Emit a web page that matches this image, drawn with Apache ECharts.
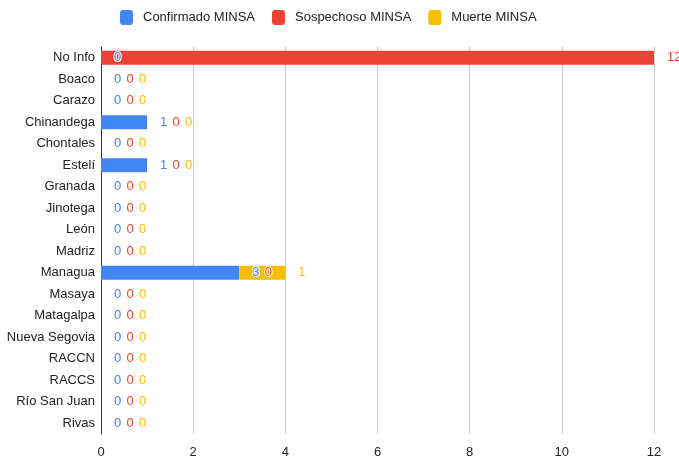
<!DOCTYPE html>
<html>
<head>
<meta charset="utf-8">
<script src="https://cdn.jsdelivr.net/npm/echarts@6/dist/echarts.min.js"></script>
<style>
  html, body { margin: 0; padding: 0; background: #fff; }
  #chart { width: 679px; height: 459px; }
</style>
</head>
<body>
<div id="chart"></div>
<script>
const categories = ["No Info", "Boaco", "Carazo", "Chinandega", "Chontales", "Estelí", "Granada", "Jinotega", "León", "Madriz", "Managua", "Masaya", "Matagalpa", "Nueva Segovia", "RACCN", "RACCS", "Río San Juan", "Rivas"];
const seriesNames = ["Confirmado MINSA", "Sospechoso MINSA", "Muerte MINSA"];
const confirmado = [0, 0, 0, 1, 0, 1, 0, 0, 0, 0, 3, 0, 0, 0, 0, 0, 0, 0];
const sospechoso = [12, 0, 0, 0, 0, 0, 0, 0, 0, 0, 0, 0, 0, 0, 0, 0, 0, 0];
const muerte = [0, 0, 0, 0, 0, 0, 0, 0, 0, 0, 1, 0, 0, 0, 0, 0, 0, 0];
const xTicks = [0, 2, 4, 6, 8, 10, 12];

const colors = ["#4285F4", "#EA4335", "#FBBC04"];
const font = "Arial, 'Liberation Sans', sans-serif";
const values = [confirmado, sospechoso, muerte];

// labels that end at the same stack position get pushed right, one after another
const series = values.map((vals, s) => {
  return {
    name: seriesNames[s],
    type: "bar",
    stack: "total",
    barCategoryGap: "34%",
    data: vals.map((v, i) => {
      let end = 0;
      for (let j = 0; j <= s; j++) end += values[j][i];
      let k = 0;
      for (let p = 0; p < s; p++) {
        let e = 0;
        for (let j = 0; j <= p; j++) e += values[j][i];
        if (e === end) k++;
      }
      return { value: v, label: { offset: [12.5 * k, 0] } };
    }),
    label: {
      show: true,
      position: "right",
      distance: 13,
      color: colors[s],
      fontFamily: font,
      fontSize: 13,
      textBorderColor: "#fff",
      textBorderWidth: 2
    }
  };
});

const chart = echarts.init(document.getElementById("chart"));
chart.setOption({
  color: colors,
  animation: false,
  legend: {
    top: 10,
    left: 120,
    padding: 0,
    itemWidth: 13,
    itemHeight: 15,
    itemGap: 17,
    icon: "roundRect",
    textStyle: { color: "#222", fontFamily: font, fontSize: 13, padding: [0, 0, 0, 5] },
    data: seriesNames
  },
  grid: { left: 101, right: 25, top: 47, bottom: 24, containLabel: false },
  xAxis: {
    type: "value",
    min: xTicks[0],
    max: xTicks[xTicks.length - 1],
    interval: 2,
    axisLine: { show: false },
    axisTick: { show: false },
    axisLabel: { color: "#222", fontFamily: font, fontSize: 13, margin: 12 },
    splitLine: { lineStyle: { color: "#cccccc" } }
  },
  yAxis: {
    type: "category",
    inverse: true,
    data: categories,
    axisLine: { lineStyle: { color: "#333", width: 1 } },
    axisTick: { show: false },
    axisLabel: { color: "#222", fontFamily: font, fontSize: 13, margin: 6 }
  },
  series: series
});
</script>
</body>
</html>
